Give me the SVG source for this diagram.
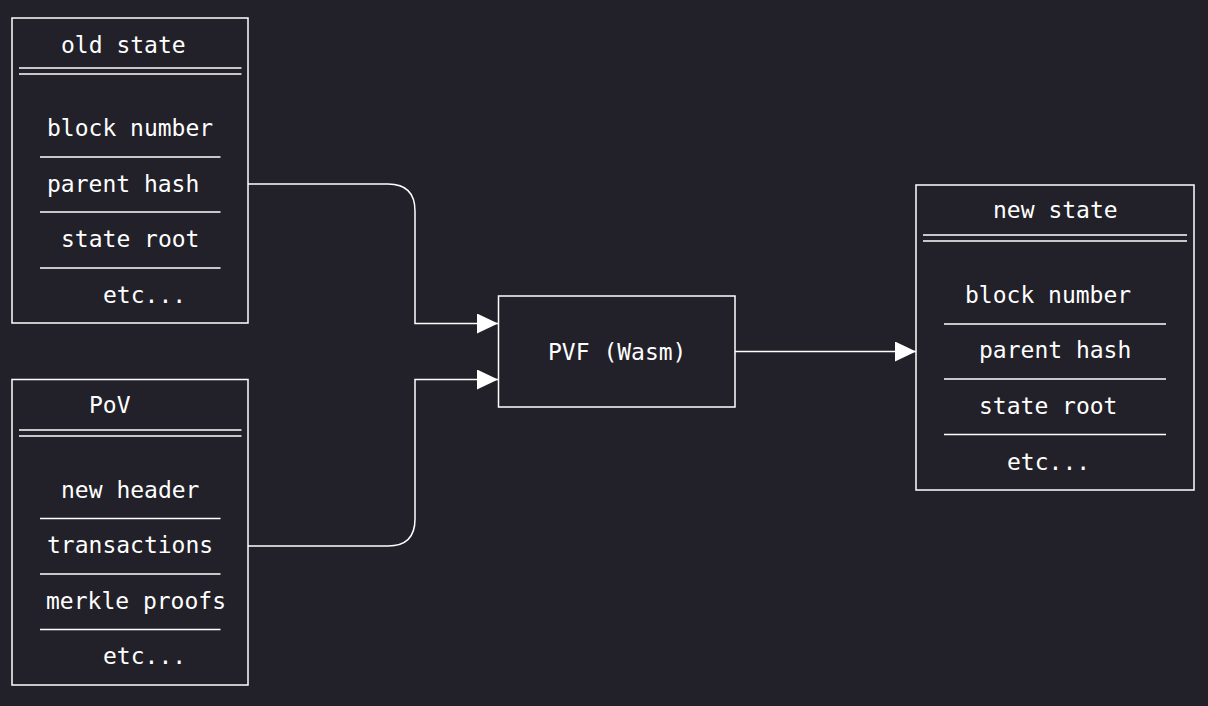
<svg xmlns="http://www.w3.org/2000/svg" width="1208" height="706" viewBox="0 0 1208 706">
<style>
.bg{fill:#222129}
.box{fill:#222129;stroke:#ffffff;stroke-width:1.5}
.ln{stroke:#ffffff;stroke-width:1.5;fill:none}
.t{font-family:"DejaVu Sans Mono","Liberation Mono",monospace;font-size:23px;fill:#ffffff}
</style>
<defs>
<marker id="ah" markerWidth="21" markerHeight="20" refX="21" refY="10" orient="auto" markerUnits="userSpaceOnUse">
<path d="M0,0 L21,10 L0,20 Z" fill="#ffffff"/>
</marker>
</defs>
<rect class="bg" x="0" y="0" width="1208" height="706"/>
<g id="connectors">
<path class="ln" d="M248,184 H388 Q415,184 415,211 V323.5 H498" marker-end="url(#ah)"/>
<path class="ln" d="M248,546 H388 Q415,546 415,519 V379.5 H498" marker-end="url(#ah)"/>
<path class="ln" d="M735,351.5 H916" marker-end="url(#ah)"/>
</g>
<g id="old-state">
<rect class="box" x="12" y="18" width="236" height="305"/>
<text class="t" x="61" y="53">old state</text>
<line class="ln" x1="19" y1="68" x2="241.5" y2="68"/>
<line class="ln" x1="19" y1="74" x2="241.5" y2="74"/>
<text class="t" x="47" y="136">block number</text>
<line class="ln" x1="40" y1="157" x2="220.5" y2="157"/>
<text class="t" x="47" y="192">parent hash</text>
<line class="ln" x1="40" y1="212" x2="220.5" y2="212"/>
<text class="t" x="61" y="247">state root</text>
<line class="ln" x1="40" y1="268" x2="220.5" y2="268"/>
<text class="t" x="103" y="303">etc...</text>
</g>
<g id="pov">
<rect class="box" x="12" y="379.5" width="236" height="305.5"/>
<text class="t" x="89" y="413">PoV</text>
<line class="ln" x1="19" y1="430" x2="241.5" y2="430"/>
<line class="ln" x1="19" y1="436" x2="241.5" y2="436"/>
<text class="t" x="61" y="497.5">new header</text>
<line class="ln" x1="40" y1="518.5" x2="220.5" y2="518.5"/>
<text class="t" x="47" y="552.5">transactions</text>
<line class="ln" x1="40" y1="574" x2="220.5" y2="574"/>
<text class="t" x="46" y="608.5">merkle proofs</text>
<line class="ln" x1="40" y1="629.5" x2="220.5" y2="629.5"/>
<text class="t" x="103" y="664">etc...</text>
</g>
<g id="pvf">
<rect class="box" x="498.5" y="296" width="236.5" height="111"/>
<text class="t" x="548" y="360">PVF (Wasm)</text>
</g>
<g id="new-state">
<rect class="box" x="916" y="185" width="278" height="305"/>
<text class="t" x="993" y="218">new state</text>
<line class="ln" x1="923" y1="235" x2="1187" y2="235"/>
<line class="ln" x1="923" y1="241" x2="1187" y2="241"/>
<text class="t" x="965" y="302.5">block number</text>
<line class="ln" x1="944" y1="324" x2="1166" y2="324"/>
<text class="t" x="979" y="358">parent hash</text>
<line class="ln" x1="944" y1="379" x2="1166" y2="379"/>
<text class="t" x="979" y="413.5">state root</text>
<line class="ln" x1="944" y1="434.5" x2="1166" y2="434.5"/>
<text class="t" x="1007" y="470">etc...</text>
</g>
</svg>
